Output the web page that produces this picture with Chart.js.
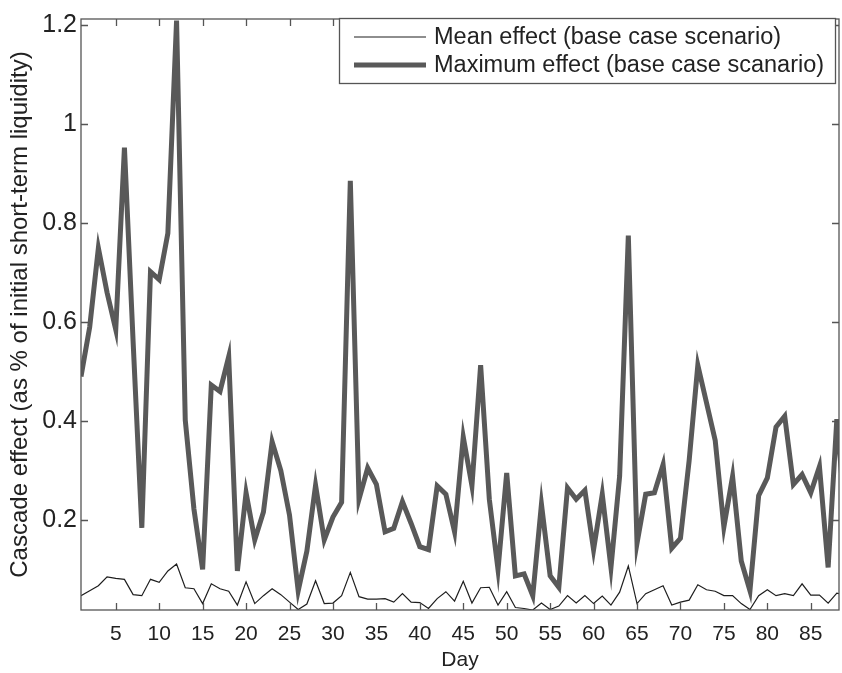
<!DOCTYPE html>
<html>
<head>
<meta charset="utf-8">
<script src="https://cdn.jsdelivr.net/npm/chart.js@4.4.1/dist/chart.umd.min.js"></script>
<style>
  html, body { margin: 0; padding: 0; background: #fff; }
</style>
</head>
<body>
<canvas id="cascadeChart" width="842" height="673"></canvas>
<script>
// day index 1..89 (the last day runs past the right edge and is clipped)
const days = Array.from({ length: 89 }, (_, i) => i + 1);

const maxEffect = [
  0.49, 0.59, 0.75, 0.66, 0.585, 0.953, 0.56, 0.184, 0.702, 0.686,
  0.78, 1.21, 0.402, 0.222, 0.1, 0.473, 0.46, 0.53, 0.097, 0.255,
  0.16, 0.216, 0.358, 0.30, 0.21, 0.057, 0.137, 0.27, 0.16, 0.206,
  0.236, 0.886, 0.242, 0.305, 0.272, 0.176, 0.183, 0.237, 0.193, 0.146,
  0.14, 0.269, 0.252, 0.176, 0.368, 0.269, 0.513, 0.242, 0.10, 0.295,
  0.087, 0.091, 0.047, 0.232, 0.087, 0.064, 0.265, 0.242, 0.26, 0.14,
  0.252, 0.104, 0.289, 0.775, 0.153, 0.252, 0.255, 0.312, 0.143, 0.163,
  0.32, 0.513, 0.437, 0.361, 0.186, 0.288, 0.117, 0.057, 0.249, 0.285,
  0.388, 0.41, 0.272, 0.292, 0.255, 0.308, 0.104, 0.404, 0.2
];

const meanEffect = [
  0.047, 0.057, 0.067, 0.085, 0.082, 0.08, 0.049, 0.047, 0.08, 0.074,
  0.097, 0.111, 0.063, 0.061, 0.031, 0.071, 0.061, 0.056, 0.028, 0.075,
  0.031, 0.047, 0.061, 0.049, 0.034, 0.019, 0.03, 0.077, 0.031, 0.032,
  0.047, 0.094, 0.045, 0.04, 0.04, 0.041, 0.034, 0.051, 0.034, 0.033,
  0.021, 0.041, 0.055, 0.036, 0.076, 0.032, 0.063, 0.064, 0.028, 0.055,
  0.023, 0.021, 0.018, 0.032, 0.019, 0.026, 0.047, 0.032, 0.047, 0.031,
  0.046, 0.028, 0.054, 0.107, 0.031, 0.051, 0.059, 0.067, 0.028, 0.034,
  0.038, 0.069, 0.059, 0.056, 0.047, 0.047, 0.031, 0.019, 0.047, 0.059,
  0.047, 0.051, 0.047, 0.071, 0.048, 0.048, 0.032, 0.052, 0.048
];

const xTicks = [5, 10, 15, 20, 25, 30, 35, 40, 45, 50, 55, 60, 65, 70, 75, 80, 85];
const yTicks = [0.2, 0.4, 0.6, 0.8, 1.0, 1.2];

const seriesNames = [
  "Mean effect (base case scenario)",
  "Maximum effect (base case scanario)"
];

const FONT = "'Liberation Sans', Arial, Helvetica, sans-serif";
const INK = "#222";
const AXIS = "#555";

const toPoints = (vals) => vals.map((v, i) => ({ x: days[i], y: v }));

// matlab-ish box with inward ticks on all four sides
const boxPlugin = {
  id: "box",
  afterDatasetsDraw(chart) {
    const { ctx, chartArea: a, scales } = chart;
    ctx.save();
    ctx.strokeStyle = AXIS;
    ctx.lineWidth = 1.3;
    ctx.strokeRect(a.left, a.top, a.right - a.left, a.bottom - a.top);
    ctx.beginPath();
    xTicks.forEach(v => {
      const px = Math.round(scales.x.getPixelForValue(v)) + 0.5;
      ctx.moveTo(px, a.bottom); ctx.lineTo(px, a.bottom - 7);
      ctx.moveTo(px, a.top); ctx.lineTo(px, a.top + 7);
    });
    yTicks.forEach(v => {
      const py = Math.round(scales.y.getPixelForValue(v)) + 0.5;
      ctx.moveTo(a.left, py); ctx.lineTo(a.left + 7, py);
      ctx.moveTo(a.right, py); ctx.lineTo(a.right - 7, py);
    });
    ctx.stroke();
    ctx.restore();
  }
};

// legend box in the upper right corner
const legendPlugin = {
  id: "boxLegend",
  afterDraw(chart) {
    const { ctx } = chart;
    const bx = 339.5, by = 18.5, bw = 496, bh = 65;
    ctx.save();
    ctx.fillStyle = "#fff";
    ctx.fillRect(bx, by, bw, bh);
    ctx.strokeStyle = AXIS;
    ctx.lineWidth = 1.3;
    ctx.strokeRect(bx, by, bw, bh);
    chart.data.datasets.forEach((ds, i) => {
      const y = i === 0 ? 37 : 65;
      ctx.beginPath();
      ctx.strokeStyle = ds.borderColor;
      ctx.lineWidth = ds.borderWidth;
      ctx.moveTo(354, y); ctx.lineTo(426, y);
      ctx.stroke();
      ctx.fillStyle = INK;
      ctx.font = "23.5px " + FONT;
      ctx.textBaseline = "middle";
      ctx.textAlign = "left";
      ctx.fillText(ds.label, 434, y + 1);
    });
    ctx.restore();
  }
};

new Chart(document.getElementById("cascadeChart"), {
  type: "line",
  data: {
    datasets: [
      {
        label: seriesNames[0],
        data: toPoints(meanEffect),
        borderColor: "#1e1e1e",
        borderWidth: 1.2,
        pointRadius: 0,
        tension: 0,
        clip: 0,
      },
      {
        label: seriesNames[1],
        data: toPoints(maxEffect),
        borderColor: "#595959",
        borderWidth: 5,
        pointRadius: 0,
        tension: 0,
        clip: 0,
      },
    ],
  },
  options: {
    responsive: false,
    animation: false,
    devicePixelRatio: 1,
    layout: { padding: { top: 6, right: 3, left: 0, bottom: 0 } },
    plugins: {
      legend: { display: false },
      tooltip: { enabled: false },
    },
    scales: {
      x: {
        type: "linear",
        min: 1,
        max: 88.25,
        afterBuildTicks: (scale) => { scale.ticks = xTicks.map(v => ({ value: v })); },
        afterFit: (scale) => { scale.height = 63; },
        grid: { display: false, drawTicks: false },
        border: { display: false },
        ticks: {
          color: INK,
          padding: 12,
          maxRotation: 0,
          autoSkip: false,
          font: { family: FONT, size: 21 },
        },
        title: {
          display: true,
          text: "Day",
          color: INK,
          padding: { top: 0, bottom: 0 },
          font: { family: FONT, size: 21 },
        },
      },
      y: {
        min: 0.018,
        max: 1.213,
        afterBuildTicks: (scale) => { scale.ticks = yTicks.map(v => ({ value: v })); },
        afterFit: (scale) => { scale.width = 81; },
        grid: { display: false, drawTicks: false },
        border: { display: false },
        ticks: {
          color: INK,
          padding: 4,
          autoSkip: false,
          font: { family: FONT, size: 25 },
          callback: (v) => String(Math.round(v * 10) / 10),
        },
        title: {
          display: true,
          text: "Cascade effect (as % of initial short-term liquidity)",
          color: INK,
          padding: { top: 6, bottom: 0 },
          font: { family: FONT, size: 24 },
        },
      },
    },
  },
  plugins: [boxPlugin, legendPlugin],
});
</script>
</body>
</html>
